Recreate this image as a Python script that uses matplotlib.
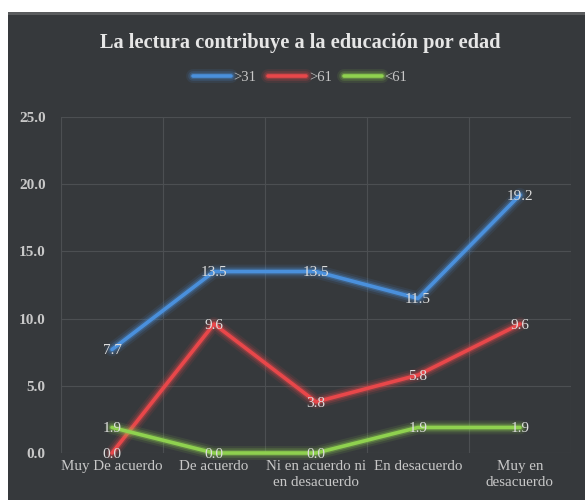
import matplotlib.pyplot as plt
import matplotlib.patheffects as pe
import numpy as np

# datos
categorias = ['Muy De acuerdo', 'De acuerdo', 'Ni en acuerdo ni\nen desacuerdo',
              'En desacuerdo', 'Muy en\ndesacuerdo']
series = ['>31', '>61', '<61']
v31 = [7.7, 13.5, 13.5, 11.5, 19.2]
v61 = [0.0, 9.6, 3.8, 5.8, 9.6]
vm61 = [1.9, 0.0, 0.0, 1.9, 1.9]
colores = ['#4a90dc', '#e8474a', '#8fd14f']
yticks = [0, 5, 10, 15, 20, 25]

bg = '#36393c'
txt = '#c8c8c8'
serif = ['Liberation Serif', 'DejaVu Serif']

fig = plt.figure(figsize=(5.85, 5.0), dpi=100)
fig.patch.set_facecolor('white')
# fondo oscuro del area del grafico
fig.patches.append(plt.Rectangle((8/585, 0), 577/585, 488/500, transform=fig.transFigure,
                                 facecolor=bg, edgecolor='none', zorder=0))
fig.patches.append(plt.Rectangle((8/585, 485/500), 577/585, 3/500, transform=fig.transFigure,
                                 facecolor='#5a5c5e', edgecolor='none', zorder=0))

ax = fig.add_axes([61/585, 47/500, 510/585, 336/500])
ax.set_zorder(2)
ax.set_facecolor(bg)
x = np.arange(len(categorias))

for vals, name, c in zip([v31, v61, vm61], series, colores):
    ln, = ax.plot(x, vals, color=c, lw=2.6, label=name, solid_joinstyle='round',
                  solid_capstyle='round', zorder=3, clip_on=False)
    ln.set_path_effects([pe.Stroke(linewidth=10, foreground=c, alpha=0.1),
                         pe.Stroke(linewidth=7, foreground=c, alpha=0.18),
                         pe.Stroke(linewidth=4.5, foreground=c, alpha=0.3),
                         pe.Normal()])
    for xi, v in zip(x, vals):
        ax.text(xi, v - 0.1, '%.1f' % v, ha='center', va='center', color='#dcdcdc',
                fontsize=11, family=serif, zorder=5)

ax.set_xlim(-0.5, len(categorias) - 0.5)
ax.set_ylim(0, 25)
ax.set_yticks(yticks)
ax.set_yticklabels(['%.1f' % t for t in yticks], family=serif, fontsize=11,
                   color=txt, fontweight='bold')
ax.set_xticks(x)
ax.set_xticklabels(categorias, family=serif, fontsize=10.8, color=txt, linespacing=1.3)
ax.tick_params(axis='x', length=0, pad=5)
ax.tick_params(axis='y', length=0, pad=11)
ax.set_xticks(np.arange(-0.5, len(categorias)), minor=True)
ax.grid(True, which='minor', axis='x', color='#4c4f52', lw=0.8)
ax.grid(True, which='major', axis='y', color='#4c4f52', lw=0.8)
ax.tick_params(which='minor', length=0)
for s in ax.spines.values():
    s.set_visible(False)

fig.text(300/585, 1 - 43/500, 'La lectura contribuye a la educación por edad',
         ha='center', va='center', color='#e6e6e6', fontsize=14.7, fontweight='bold',
         family=serif)
leg = fig.legend(loc='center', bbox_to_anchor=(300/585, 1 - 77/500), ncol=3, frameon=False,
                 handlelength=2.6, columnspacing=0.8, handletextpad=0.2,
                 prop={'family': serif, 'size': 10.5})
for t in leg.get_texts():
    t.set_color(txt)

fig.savefig('out.png', dpi=100, facecolor=fig.get_facecolor())
